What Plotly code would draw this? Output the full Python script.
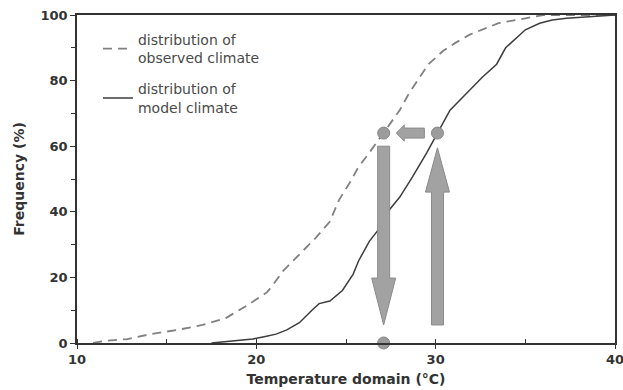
import plotly.graph_objects as go

# Cumulative distribution of observed temperatures (dashed curve)
obs_temp = [10.9, 11.5, 12.8, 14.1, 15.6, 17.0, 18.3, 19.5, 20.6, 20.9, 21.5, 22.4,
            23.3, 24.1, 24.6, 25.2, 25.7, 26.3, 27.1, 28.0, 28.5, 29.1, 29.6, 30.4,
            31.1, 31.9, 32.8, 33.5, 35.0, 36.0, 40.0]
obs_freq = [0.0, 0.6, 1.2, 2.7, 4.0, 5.5, 7.6, 11.5, 15.5, 17.5, 22.0, 27.0,
            32.0, 37.0, 43.5, 48.8, 53.7, 58.0, 64.0, 71.0, 76.0, 81.0, 85.0, 89.0,
            91.5, 94.0, 96.0, 97.5, 99.0, 100.0, 100.0]

# Cumulative distribution of modelled temperatures (solid curve)
mod_temp = [17.5, 18.5, 19.8, 20.5, 21.1, 21.7, 22.4, 23.1, 23.5, 24.1, 24.8, 25.4,
            25.7, 26.3, 26.8, 27.4, 28.0, 28.7, 29.5, 30.1, 30.8, 31.7, 32.6, 33.4,
            33.9, 34.7, 35.0, 35.8, 36.5, 37.3, 38.5, 39.8, 40.0]
mod_freq = [0.0, 0.6, 1.2, 2.0, 2.7, 4.0, 6.2, 10.0, 12.0, 12.8, 16.0, 21.0,
            25.0, 31.0, 34.5, 40.5, 44.5, 50.6, 58.0, 64.0, 71.0, 76.0, 81.0, 85.0,
            90.0, 94.0, 95.5, 97.5, 98.5, 99.0, 99.5, 100.0, 100.0]

# Quantile mapping example
quantile_freq = 64.0
model_temp_q = 30.1
obs_temp_q = 27.1

x_ticks = [10, 20, 30, 40]
y_ticks = [0, 20, 40, 60, 80, 100]

FONT = "DejaVu Sans"
AXIS = "#333333"
ARROW_FILL = "#a2a2a2"
ARROW_EDGE = "#8a8a8a"

fig = go.Figure()

fig.add_trace(go.Scatter(
    x=obs_temp, y=obs_freq, mode="lines",
    name="distribution of<br>observed climate",
    line=dict(color="#808080", width=1.8, dash="9px,6px"),
    legendgroup="obs",
))
fig.add_trace(go.Scatter(
    x=mod_temp, y=mod_freq, mode="lines",
    name="distribution of<br>model climate",
    line=dict(color="#3c3c3c", width=1.5),
    legendgroup="mod",
))

# Arrows: up from model value, left across to observed curve, down to corrected value
half_shaft, half_head = 6, 12
up_path = (f"M {-half_shaft},{5.5} L {half_shaft},{5.5} L {half_shaft},{quantile_freq - 18} "
           f"L {half_head},{quantile_freq - 18} L 0,{quantile_freq - 4.5} "
           f"L {-half_head},{quantile_freq - 18} L {-half_shaft},{quantile_freq - 18} Z")
down_path = (f"M {-half_shaft},{quantile_freq - 4} L {half_shaft},{quantile_freq - 4} "
             f"L {half_shaft},19.8 L {half_head},19.8 L 0,5.5 L {-half_head},19.8 "
             f"L {-half_shaft},19.8 Z")
tail = model_temp_q - 0.73
base = obs_temp_q + 1.15
tip = obs_temp_q + 0.7
left_path = (f"M {tail},-5 L {base},-5 L {base},-8 L {tip},0 L {base},8 "
             f"L {base},5 L {tail},5 Z")

shapes = [
    dict(type="path", path=up_path, xref="x", yref="y", xsizemode="pixel",
         xanchor=model_temp_q, fillcolor=ARROW_FILL, line=dict(color=ARROW_EDGE, width=1),
         layer="above"),
    dict(type="path", path=down_path, xref="x", yref="y", xsizemode="pixel",
         xanchor=obs_temp_q, fillcolor=ARROW_FILL, line=dict(color=ARROW_EDGE, width=1),
         layer="above"),
    dict(type="path", path=left_path, xref="x", yref="y", ysizemode="pixel",
         yanchor=quantile_freq, fillcolor=ARROW_FILL, line=dict(color=ARROW_EDGE, width=1),
         layer="above"),
]

fig.add_trace(go.Scatter(
    x=[obs_temp_q, model_temp_q, obs_temp_q],
    y=[quantile_freq, quantile_freq, 0],
    mode="markers", showlegend=False, cliponaxis=False,
    marker=dict(size=12, color="#9c9c9c", line=dict(color="#858585", width=1)),
))

fig.update_layout(
    width=623, height=390,
    margin=dict(l=77, r=6, t=15, b=47),
    paper_bgcolor="white", plot_bgcolor="white",
    font=dict(family=FONT, color=AXIS),
    shapes=shapes,
    showlegend=True,
    legend=dict(
        x=0.039, y=0.973, xanchor="left", yanchor="top",
        bgcolor="rgba(0,0,0,0)", font=dict(family=FONT, size=14, color="#4a4a4a"),
        tracegroupgap=10, itemwidth=30,
    ),
    xaxis=dict(
        range=[10, 40], tickvals=x_ticks, ticktext=[str(v) for v in x_ticks],
        showgrid=False, zeroline=False, automargin=False,
        showline=True, linecolor=AXIS, linewidth=1.5, mirror=True,
        ticks="outside", ticklen=4, tickcolor=AXIS, tickwidth=1,
        ticklabeloverflow="allow",
        minor=dict(dtick=5, ticks="inside", ticklen=4, tickcolor=AXIS, showgrid=False),
        tickfont=dict(family=FONT, size=13, color=AXIS, weight="bold"),
        title=dict(text="<b>Temperature domain (°C)</b>", standoff=8,
                   font=dict(family=FONT, size=14, color=AXIS)),
    ),
    yaxis=dict(
        range=[0, 100], tickvals=y_ticks, ticktext=[str(v) for v in y_ticks],
        showgrid=False, zeroline=False,
        showline=True, linecolor=AXIS, linewidth=1.5, mirror=True,
        ticks="outside", ticklen=5, tickcolor=AXIS, tickwidth=1,
        minor=dict(dtick=10, ticks="outside", ticklen=4, tickcolor=AXIS, showgrid=False),
        tickfont=dict(family=FONT, size=13, color=AXIS, weight="bold"),
        title=dict(text="<b>Frequency (%)</b>", standoff=13,
                   font=dict(family=FONT, size=14, color=AXIS)),
    ),
)

fig.write_html("out.html")
